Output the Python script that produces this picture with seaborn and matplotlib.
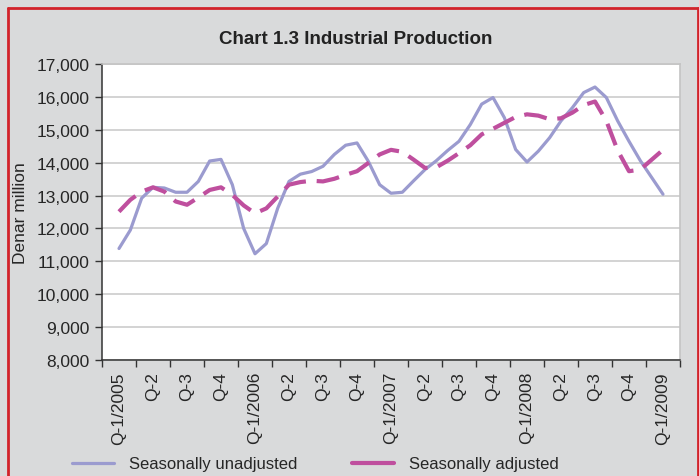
import numpy as np
import pandas as pd
import matplotlib
matplotlib.use("Agg")
import matplotlib.pyplot as plt
from matplotlib.lines import Line2D
import seaborn as sns

# monthly values, Jan 2005 .. Jan 2009 (denar million)
unadjusted = [11390, 11950, 12920, 13250, 13230, 13100, 13100, 13430, 14050, 14100,
              13330, 12000, 11230, 11540, 12610, 13430, 13650, 13730, 13890, 14250,
              14530, 14600, 14040, 13330, 13070, 13100, 13450, 13790, 14060, 14370,
              14650, 15160, 15780, 15980, 15370, 14400, 14020, 14350, 14760, 15270,
              15670, 16130, 16300, 15980, 15270, 14650, 14060, 13550, 13040]
adjusted = [12510, 12870, 13120, 13250, 13120, 12820, 12720, 12940, 13170, 13250,
            13020, 12700, 12460, 12610, 12970, 13330, 13410, 13450, 13430, 13510,
            13630, 13740, 13990, 14250, 14390, 14330, 14090, 13840, 13860, 14060,
            14290, 14530, 14860, 15030, 15210, 15390, 15470, 15430, 15320, 15350,
            15520, 15750, 15860, 15270, 14370, 13740, 13790, 14090, 14390]
quarter_labels = ["Q-1/2005", "Q-2", "Q-3", "Q-4",
                  "Q-1/2006", "Q-2", "Q-3", "Q-4",
                  "Q-1/2007", "Q-2", "Q-3", "Q-4",
                  "Q-1/2008", "Q-2", "Q-3", "Q-4",
                  "Q-1/2009"]

df = pd.DataFrame({
    "month": np.arange(len(unadjusted)),
    "Seasonally unadjusted": unadjusted,
    "Seasonally adjusted": adjusted,
})

sns.set_style("white")
plt.rcParams["font.family"] = ["Liberation Sans", "DejaVu Sans"]

bg = "#d9dadb"
c_unadj = "#9b9bcf"
c_adj = "#bf4f9e"
fs = 12.5

fig = plt.figure(figsize=(6.99, 4.77), dpi=100, facecolor=bg)
ax = fig.add_axes([102 / 699, 1 - 361 / 477, 578 / 699, 296 / 477])
ax.set_facecolor("white")

sns.lineplot(data=df, x="month", y="Seasonally unadjusted", ax=ax,
             color=c_unadj, linewidth=2.3)
sns.lineplot(data=df, x="month", y="Seasonally adjusted", ax=ax,
             color=c_adj, linewidth=3.0, dashes=False)
ax.lines[1].set_dashes((5.5, 2.6))

ax.set_ylim(8000, 17000)
ax.set_yticks(np.arange(8000, 17001, 1000))
ax.set_yticklabels([f"{v:,}" for v in range(8000, 17001, 1000)], fontsize=fs)
ax.grid(axis="y", color="#c8c8c8", linewidth=1.1)
ax.set_axisbelow(True)

ax.set_xlim(-1.5, 49.5)
ax.set_xticks(np.arange(-1.5, 49.6, 3))
ax.set_xticklabels([])
ax.set_xticks(np.arange(0, 49, 3), minor=True)
ax.set_xticklabels(quarter_labels, minor=True, rotation=90, fontsize=fs)
ax.tick_params(axis="x", which="minor", length=0, pad=8)
ax.tick_params(axis="both", which="major", direction="out", length=5,
               width=1, color="#333333", left=True, bottom=True)
ax.tick_params(axis="y", pad=4)

ax.set_xlabel("")
ax.set_ylabel("Denar million", fontsize=fs, labelpad=6)

for side in ["left", "bottom"]:
    ax.spines[side].set_color("#333333")
    ax.spines[side].set_linewidth(1.1)
for side in ["top", "right"]:
    ax.spines[side].set_color("#c4c4c4")
    ax.spines[side].set_linewidth(1.2)

fig.text(356 / 699, 1 - 40 / 477, "Chart 1.3 Industrial Production",
         ha="center", va="center", fontsize=13.5, fontweight="bold", color="#222222")

handles = [Line2D([], [], color=c_unadj, linewidth=2.3),
           Line2D([], [], color=c_adj, linewidth=3.0)]
fig.legend(handles, ["Seasonally unadjusted", "Seasonally adjusted"],
           loc="center left", bbox_to_anchor=(57 / 699, 1 - 465 / 477),
           ncol=2, frameon=False, fontsize=12, handlelength=2.5,
           handletextpad=0.9, columnspacing=3.3)

# red frame around the panel
red = "#d2232a"
fig.add_artist(Line2D([7.5 / 699, 7.5 / 699], [0, 1 - 9 / 477], color=red, linewidth=2))
fig.add_artist(Line2D([7.5 / 699, 697.5 / 699], [1 - 9 / 477, 1 - 9 / 477], color=red, linewidth=2))
fig.add_artist(Line2D([697.5 / 699, 697.5 / 699], [0, 1 - 9 / 477], color=red, linewidth=2))

fig.savefig("out.png", dpi=100, facecolor=bg)
